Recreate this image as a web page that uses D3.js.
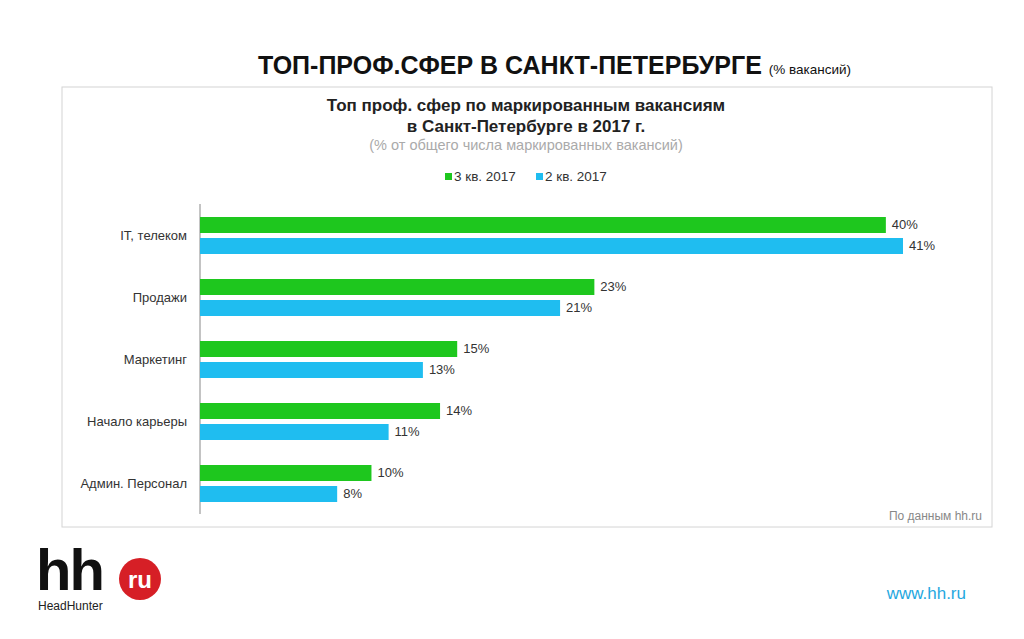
<!doctype html>
<html lang="ru">
<head>
<meta charset="utf-8">
<script src="https://d3js.org/d3.v7.min.js"></script>
<style>
  body { margin: 0; background: #fff; font-family: "Liberation Sans", Arial, sans-serif; }
</style>
</head>
<body>
<svg id="chart" width="1024" height="639"></svg>
<script>
var categories = ["IT, телеком", "Продажи", "Маркетинг", "Начало карьеры", "Админ. Персонал"];
var q3 = [40, 23, 15, 14, 10];
var q2 = [41, 21, 13, 11, 8];
var seriesNames = ["3 кв. 2017", "2 кв. 2017"];
var colors = ["#1ec71e", "#1fbdf0"];

var svg = d3.select("#chart");

// заголовок слайда
var t = svg.append("text").attr("x", 258).attr("y", 74)
  .attr("font-size", 25).attr("font-weight", "bold").attr("fill", "#111");
t.append("tspan").text("ТОП-ПРОФ.СФЕР В САНКТ-ПЕТЕРБУРГЕ ");
t.append("tspan").attr("font-size", 13.5).attr("font-weight", "normal").text(" (% вакансий)");

// рамка графика
svg.append("rect").attr("x", 62).attr("y", 87).attr("width", 930).attr("height", 440)
  .attr("fill", "#fff").attr("stroke", "#d4d4d4");

svg.append("text").attr("x", 526).attr("y", 111).attr("text-anchor", "middle")
  .attr("font-size", 17).attr("font-weight", "bold").attr("fill", "#222")
  .text("Топ проф. сфер по маркированным вакансиям");
svg.append("text").attr("x", 526).attr("y", 132).attr("text-anchor", "middle")
  .attr("font-size", 17).attr("font-weight", "bold").attr("fill", "#222")
  .text("в Санкт-Петербурге  в 2017 г.");
svg.append("text").attr("x", 526).attr("y", 150).attr("text-anchor", "middle")
  .attr("font-size", 14.5).attr("fill", "#aaa")
  .text("(% от общего числа маркированных  вакансий)");

// легенда
var legX = [445, 536];
seriesNames.forEach(function (n, i) {
  svg.append("rect").attr("x", legX[i]).attr("y", 173).attr("width", 7).attr("height", 7).attr("fill", colors[i]);
  svg.append("text").attr("x", legX[i] + 9).attr("y", 181).attr("font-size", 13.5).attr("fill", "#333").text(n);
});

var x = d3.scaleLinear().domain([0, 41]).range([200, 903]);
var y = d3.scaleBand().domain(categories).range([204, 514]).paddingInner(0).paddingOuter(0);
var bh = 16;

svg.append("line").attr("x1", 200).attr("x2", 200).attr("y1", 204).attr("y2", 514)
  .attr("stroke", "#888");

[q3, q2].forEach(function (vals, s) {
  var g = svg.append("g");
  g.selectAll("rect").data(vals).enter().append("rect")
    .attr("x", x(0))
    .attr("y", function (d, i) { return y(categories[i]) + 13 + s * 21; })
    .attr("width", function (d) { return x(d) - x(0); })
    .attr("height", bh)
    .attr("fill", colors[s]);
  g.selectAll("text").data(vals).enter().append("text")
    .attr("x", function (d) { return x(d) + 6; })
    .attr("y", function (d, i) { return y(categories[i]) + 13 + s * 21 + 12; })
    .attr("font-size", 13).attr("fill", "#333")
    .text(function (d) { return d + "%"; });
});

svg.append("g").selectAll("text").data(categories).enter().append("text")
  .attr("x", 187).attr("y", function (d) { return y(d) + 36; })
  .attr("text-anchor", "end").attr("font-size", 13).attr("fill", "#333")
  .text(function (d) { return d; });

svg.append("text").attr("x", 982).attr("y", 520).attr("text-anchor", "end")
  .attr("font-size", 12).attr("fill", "#888").text("По данным hh.ru");

// логотип
svg.append("text").attr("x", 36).attr("y", 590).attr("font-size", 58).attr("font-weight", "bold")
  .attr("fill", "#111").attr("letter-spacing", -2).text("hh");
svg.append("circle").attr("cx", 140).attr("cy", 579).attr("r", 21).attr("fill", "#d61f26");
svg.append("text").attr("x", 140).attr("y", 588).attr("text-anchor", "middle").attr("font-size", 24)
  .attr("font-weight", "bold").attr("fill", "#fff").text("ru");
svg.append("text").attr("x", 38).attr("y", 610).attr("font-size", 12).attr("fill", "#222").text("HeadHunter");

svg.append("text").attr("x", 966).attr("y", 599).attr("text-anchor", "end")
  .attr("font-size", 17).attr("fill", "#1fa8e0").text("www.hh.ru");
</script>
</body>
</html>
